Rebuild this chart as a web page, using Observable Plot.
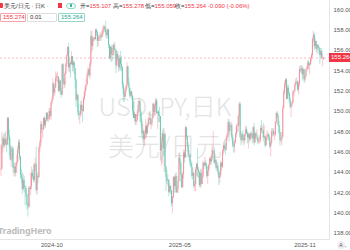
<!DOCTYPE html>
<html><head><meta charset="utf-8">
<script src="https://cdn.jsdelivr.net/npm/d3@7"></script>
<script src="https://cdn.jsdelivr.net/npm/@observablehq/plot@0.6"></script>
<style>
body{margin:0;background:#fff;font-family:"Liberation Sans",Arial,sans-serif;}
#wrap{position:relative;width:350px;height:250px;overflow:hidden;}
#wrap svg{position:absolute;left:0;top:0;}
.a{position:absolute;white-space:nowrap;}
.t{font-size:6px;line-height:8px;color:#333;}
.red{color:#f23645;}
.box{position:absolute;top:13px;height:7px;border:1px solid #ddd;border-radius:1px;font-size:6px;line-height:7px;padding-left:2px;color:#333;}
</style></head><body><div id="wrap"></div>
<script>
// ---- data (USD/JPY daily candles) ----
const startDate = "2024-08-06";
const opens = [144.2,144.3,146.7,147.3,146.6,147.2,146.8,146.7,149.3,147.6,146.6,145.2,145.3,146.3,144.4,144.5,143.9,144.6,145.0,
146.2,146.9,145.5,143.7,143.4,142.3,143.2,142.5,142.4,141.8,140.8,140.6,142.4,142.3,142.6,143.9,143.6,143.2,144.8,144.8,142.2,
143.6,143.5,146.4,146.9,148.7,148.2,148.2,149.3,148.6,149.1,149.8,149.2,149.2,150.0,149.5,150.8,151.1,152.7,151.8,152.3,153.3,153.4,153.4,
152.0,153.0,152.0,151.6,154.6,152.9,152.6,153.7,154.6,155.5,156.3,154.3,154.7,154.6,155.4,154.5,154.8,154.2,153.1,151.1,151.6,
149.8,149.6,149.6,150.6,150.1,150.0,151.2,151.9,152.4,152.6,153.6,154.1,153.5,154.7,157.4,156.4,157.1,157.2,157.1,158.0,157.8,156.9,
157.2,157.3,157.4,157.3,157.6,158.0,158.3,158.1,157.7,157.5,158.0,156.5,155.2,156.3,155.6,155.5,156.5,156.0,156.0,154.5,155.6,155.2,154.3,
155.2,154.6,154.3,152.6,151.7,151.4,152.0,152.5,154.4,152.8,152.3,151.5,151.9,151.5,150.0,149.3,149.7,149.0,149.1,149.8,
150.6,151.0,149.9,149.0,147.8,148.0,147.2,147.7,148.5,147.8,148.6,149.2,149.3,148.7,148.8,149.3,150.7,149.9,150.5,151.0,149.8,
149.9,149.6,149.5,146.1,146.9,147.8,146.3,147.7,144.5,143.5,143.1,143.2,142.0,142.6,142.2,140.9,141.5,143.5,142.6,143.6,142.0,142.3,
143.1,145.4,144.9,143.7,142.5,143.8,145.9,145.4,148.4,147.5,146.6,145.7,145.7,144.9,144.5,143.6,143.9,142.6,142.8,144.3,144.8,144.2,
144.0,142.7,143.9,142.8,143.5,144.9,144.6,144.9,144.6,143.6,144.1,144.7,145.3,145.0,145.5,146.1,146.1,144.9,145.2,144.4,144.6,
144.0,143.4,143.7,144.9,144.5,146.1,146.6,146.3,146.2,147.4,147.7,148.9,148.0,148.6,148.6,147.4,146.6,146.5,146.9,147.7,148.5,148.5,149.5,
150.7,147.4,147.1,147.7,147.4,147.1,147.7,148.2,147.8,147.4,147.7,147.2,147.8,147.7,147.3,148.4,146.9,147.8,147.4,147.4,147.0,
147.1,147.1,148.3,148.1,148.1,147.4,147.5,146.6,147.4,147.5,147.7,147.4,146.5,146.9,148.0,148.0,147.7,147.7,148.9,149.8,149.5,148.6,
147.9,147.1,147.2,147.4,150.3,151.9,152.7,153.1,151.2,152.3,151.8,151.1,150.4,150.6,150.8,151.9,152.0,152.6,152.9,152.9,152.1,152.7,154.1,
154.0,154.2,153.6,154.1,153.1,153.4,154.1,154.1,154.8,154.5,154.6,155.2,155.5,157.1,157.5,156.4,156.9,156.1,156.5,156.3,
156.2,155.5,155.9,155.3,155.107];
const closes = [144.3,146.7,147.3,146.6,147.2,146.8,146.7,149.3,147.6,146.6,145.2,145.3,146.3,144.4,144.5,143.9,144.6,145.0,146.2,
146.9,145.5,143.7,143.4,142.3,143.2,142.5,142.4,141.8,140.8,140.6,142.4,142.3,142.6,143.9,143.6,143.2,144.8,144.8,142.2,143.6,
143.5,146.4,146.9,148.7,148.2,148.2,149.3,148.6,149.1,149.8,149.2,149.2,150.0,149.5,150.8,151.1,152.7,151.8,152.3,153.3,153.4,153.4,152.0,
153.0,152.0,151.6,154.6,152.9,152.6,153.7,154.6,155.5,156.3,154.3,154.7,154.6,155.4,154.5,154.8,154.2,153.1,151.1,151.6,149.8,
149.6,149.6,150.6,150.1,150.0,151.2,151.9,152.4,152.6,153.6,154.1,153.5,154.7,157.4,156.4,157.1,157.2,157.1,158.0,157.8,156.9,157.2,
157.3,157.4,157.3,157.6,158.0,158.3,158.1,157.7,157.5,158.0,156.5,155.2,156.3,155.6,155.5,156.5,156.0,156.0,154.5,155.6,155.2,154.3,155.2,
154.6,154.3,152.6,151.7,151.4,152.0,152.5,154.4,152.8,152.3,151.5,151.9,151.5,150.0,149.3,149.7,149.0,149.1,149.8,150.6,
151.0,149.9,149.0,147.8,148.0,147.2,147.7,148.5,147.8,148.6,149.2,149.3,148.7,148.8,149.3,150.7,149.9,150.5,151.0,149.8,149.9,
149.6,149.5,146.1,146.9,147.8,146.3,147.7,144.5,143.5,143.1,143.2,142.0,142.6,142.2,140.9,141.5,143.5,142.6,143.6,142.0,142.3,143.1,
145.4,144.9,143.7,142.5,143.8,145.9,145.4,148.4,147.5,146.6,145.7,145.7,144.9,144.5,143.6,143.9,142.6,142.8,144.3,144.8,144.2,144.0,
142.7,143.9,142.8,143.5,144.9,144.6,144.9,144.6,143.6,144.1,144.7,145.3,145.0,145.5,146.1,146.1,144.9,145.2,144.4,144.6,144.0,
143.4,143.7,144.9,144.5,146.1,146.6,146.3,146.2,147.4,147.7,148.9,148.0,148.6,148.6,147.4,146.6,146.5,146.9,147.7,148.5,148.5,149.5,150.7,
147.4,147.1,147.7,147.4,147.1,147.7,148.2,147.8,147.4,147.7,147.2,147.8,147.7,147.3,148.4,146.9,147.8,147.4,147.4,147.0,147.1,
147.1,148.3,148.1,148.1,147.4,147.5,146.6,147.4,147.5,147.7,147.4,146.5,146.9,148.0,148.0,147.7,147.7,148.9,149.8,149.5,148.6,147.9,
147.1,147.2,147.4,150.3,151.9,152.7,153.1,151.2,152.3,151.8,151.1,150.4,150.6,150.8,151.9,152.0,152.6,152.9,152.9,152.1,152.7,154.1,154.0,
154.2,153.6,154.1,153.1,153.4,154.1,154.1,154.8,154.5,154.6,155.2,155.5,157.1,157.5,156.4,156.9,156.1,156.5,156.3,156.2,
155.5,155.9,155.3,155.354,155.264];
const highs = [146.6,147.9,147.5,147.8,147.8,148.0,147.4,149.4,149.4,148.2,147.3,146.6,146.5,146.5,144.9,144.9,144.9,145.7,146.6,
147.2,147.2,145.6,144.3,144.0,143.8,143.6,142.6,142.7,141.9,141.0,142.6,142.6,143.9,144.5,144.2,144.7,144.9,145.4,146.5,143.9,
144.0,146.5,147.2,149.0,149.0,148.3,149.4,149.5,149.3,149.9,149.9,149.6,150.3,150.3,150.9,151.4,153.2,152.8,152.5,153.9,153.7,153.9,153.3,
153.2,152.8,152.3,154.7,154.7,153.2,153.9,154.8,155.6,156.4,156.7,155.2,154.9,155.9,155.0,155.0,154.9,154.1,153.2,151.9,151.6,
150.7,150.0,151.0,151.0,150.6,151.4,152.0,152.6,153.2,153.8,154.3,154.2,154.9,157.9,157.9,157.3,157.3,157.3,158.1,158.1,157.9,157.5,
157.5,157.8,157.7,158.0,158.4,158.5,158.4,158.9,158.0,158.2,158.1,156.6,156.4,156.5,156.2,156.6,156.8,156.7,156.2,155.9,155.9,155.4,155.5,
155.9,155.4,154.4,152.9,152.2,152.3,152.6,154.8,154.4,153.3,152.0,152.0,152.0,151.6,150.9,149.9,149.7,149.6,150.1,151.0,
151.3,151.0,150.1,149.3,148.7,148.2,148.1,149.2,148.7,148.9,149.4,149.9,150.0,149.2,149.5,150.8,150.8,150.6,151.2,151.2,150.0,
150.1,150.4,149.3,147.4,148.1,148.3,148.3,147.9,144.6,144.2,143.8,143.3,142.9,142.7,142.2,141.6,143.6,143.4,143.8,144.0,142.6,143.6,
145.9,145.9,145.0,143.9,144.0,146.2,146.2,148.6,148.3,147.6,146.9,146.1,145.8,145.2,144.9,144.4,144.0,143.1,144.5,144.9,146.3,144.5,
144.0,144.3,144.2,144.4,145.1,145.0,145.5,145.2,144.8,144.5,144.8,145.4,145.5,145.7,146.2,148.0,146.4,145.8,145.2,145.0,144.9,
144.2,144.0,145.1,145.0,146.2,146.9,147.2,146.8,147.5,147.8,149.2,149.2,148.8,149.0,148.8,147.7,147.1,147.2,147.9,148.7,148.8,149.6,150.9,
150.9,148.0,147.9,148.1,147.6,147.8,148.5,148.5,148.0,147.9,147.8,147.9,148.0,147.8,148.5,148.8,147.8,148.0,148.2,147.7,147.4,
147.6,148.6,149.1,148.5,148.8,148.6,147.6,147.7,148.1,147.9,147.8,147.5,147.0,148.3,148.3,148.3,148.0,149.0,149.9,150.0,149.7,149.0,
148.2,147.9,147.9,150.5,152.1,153.0,153.3,153.2,152.6,152.6,151.9,151.4,150.9,151.0,152.0,152.1,152.7,153.2,153.3,153.0,152.9,154.4,154.5,
154.5,154.5,154.3,154.1,153.5,154.3,154.5,155.0,155.0,154.8,155.3,155.7,157.2,157.9,157.7,157.2,156.9,156.6,156.6,156.4,
156.2,156.0,156.2,155.6,155.278];
const lows = [143.6,144.3,145.9,146.3,146.4,146.6,145.9,146.6,147.2,145.6,145.2,144.5,145.0,143.9,143.6,143.5,143.6,143.9,144.9,
145.8,145.2,143.3,142.9,141.8,142.2,142.0,140.7,141.5,140.3,139.6,140.4,140.5,141.7,142.3,143.3,143.0,142.9,144.1,141.9,141.7,
142.9,143.4,146.0,146.5,147.8,147.3,148.1,148.4,148.3,149.0,148.9,148.9,149.1,149.3,149.1,150.6,151.1,151.5,151.5,152.5,152.9,152.8,151.9,
151.8,151.6,151.3,151.6,152.7,152.2,152.3,153.6,154.3,155.4,153.9,153.8,153.3,154.6,153.9,153.9,153.6,152.2,150.4,151.0,149.5,
149.1,148.7,149.4,149.8,148.9,149.9,151.0,151.5,152.0,152.6,153.5,153.3,153.2,154.4,155.8,156.0,156.8,156.9,157.0,157.4,156.3,156.4,
156.9,156.9,156.9,157.2,157.4,157.8,157.8,157.3,157.1,157.2,156.2,155.1,155.0,154.8,154.9,155.5,155.8,155.1,153.7,154.3,154.9,153.8,154.0,
154.0,153.9,152.2,150.9,150.9,151.3,151.7,152.2,152.6,151.8,151.3,151.3,151.1,149.6,149.3,148.9,148.6,148.6,148.9,149.7,
150.0,148.9,148.6,147.3,146.9,146.6,146.5,147.3,147.4,147.7,148.4,149.1,148.6,148.2,148.5,149.3,149.6,149.5,150.3,149.7,148.2,
148.9,148.9,145.2,144.6,144.8,145.6,144.0,144.0,142.1,142.8,142.6,141.6,141.9,141.8,140.6,139.9,141.4,141.9,142.3,141.9,141.9,141.9,
143.0,144.3,143.0,142.4,142.4,143.3,144.9,145.4,147.2,146.0,145.4,145.1,144.6,144.4,143.3,143.2,142.4,142.1,142.1,143.6,143.5,143.4,
142.5,142.4,142.5,142.8,143.4,144.3,144.6,144.3,143.4,142.8,143.6,144.3,144.7,144.7,145.1,145.8,144.8,144.6,144.2,144.1,143.7,
142.7,142.9,143.5,144.1,144.4,145.7,146.0,145.7,146.1,147.1,147.4,147.0,147.6,148.4,147.1,146.4,145.9,145.9,146.8,147.4,147.9,147.9,148.6,
147.3,146.6,146.8,147.1,146.6,146.8,147.5,147.7,146.8,146.3,146.9,147.1,147.4,146.8,147.2,146.6,146.8,147.2,147.2,146.7,146.8,
146.8,146.9,147.8,147.8,147.0,147.2,146.4,146.6,147.1,147.1,147.1,146.3,145.5,146.7,147.5,147.5,147.1,147.5,148.7,149.3,148.5,147.7,
146.6,146.9,146.6,149.0,150.2,151.6,152.3,151.1,151.7,151.5,150.8,150.2,149.4,150.4,150.8,151.5,151.8,152.4,152.6,151.9,151.6,152.4,153.8,
153.7,153.0,153.2,152.8,152.8,153.4,153.9,154.1,154.1,153.6,154.5,154.9,155.3,156.8,156.0,156.2,155.8,155.6,155.9,155.6,
154.6,155.2,155.1,154.4,155.059];
const yTicks = [138,140,142,144,146,148,150,152,154,156,158,160];
const tickDates = ["2024-10-22","2025-05-02","2025-11-07"];
const tickLabels = ["2024-10","2025-05","2025-11"];
const symbolTitle = "美元/日元 · 日K ·";
const watermark1 = "USDJPY,日K";
const watermark2 = "美元/日元";
const quoteBoxes = ["155.274","0.01","155.264"];

// ---- build rows ----
const fmt = d3.utcFormat("%Y-%m-%d");
const dates = [];
{ let d = new Date(startDate + "T00:00:00Z");
  while (dates.length < closes.length) {
    const wd = d.getUTCDay();
    if (wd !== 0 && wd !== 6) dates.push(fmt(d));
    d = new Date(d.getTime() + 86400000);
  } }
const UP = "#f28a96", DOWN = "#5cc6b0";
const rows = closes.map((c, i) => {
  const o = opens[i];
  return {i, date: dates[i], o, c, h: Math.max(highs[i], o, c), l: Math.min(lows[i], o, c), col: c >= o ? UP : DOWN};
});
const tickIdx = tickDates.map(t => dates.indexOf(t));
const last = rows[rows.length - 1];
const prevClose = rows[rows.length - 2].c;

const chart = Plot.plot({
  width: 350, height: 250,
  marginTop: 0, marginBottom: 11, marginLeft: 0, marginRight: 21,
  style: {fontFamily: "'Liberation Sans', Arial, sans-serif", background: "transparent", overflow: "visible"},
  x: {domain: [-0.5, 354.4], axis: null},
  y: {domain: [137.38, 160.93], axis: null},
  color: {type: "identity"},
  marks: [
    Plot.text([watermark1], {text: d => d, frameAnchor: "middle", dy: -12, fontSize: 25, fill: "#e4e4e4", fontFamily: "'Noto Sans CJK SC', sans-serif", fontWeight: 300}),
    Plot.text([watermark2], {text: d => d, frameAnchor: "middle", dy: 28, fontSize: 26, fill: "#e4e4e4", fontFamily: "'Noto Sans CJK SC', sans-serif", fontWeight: 300}),
    Plot.ruleY([last.c], {stroke: "#f7a9b1", strokeDasharray: "2,2", strokeWidth: 0.8}),
    Plot.ruleX(rows, {x: "i", y1: "l", y2: "h", stroke: "col", strokeWidth: 0.45}),
    Plot.ruleX(rows, {x: "i", y1: "o", y2: "c", stroke: "col", strokeWidth: 0.9}),
    Plot.frame({anchor: "right", stroke: "#e6e6e6"}),
    Plot.frame({anchor: "bottom", stroke: "#e6e6e6"}),
    Plot.axisY({anchor: "right", ticks: yTicks, tickFormat: d => d.toFixed(3), tickSize: 0, tickPadding: 4, fontSize: 6, color: "#555"}),
    Plot.axisX({ticks: tickIdx, tickFormat: d => tickLabels[tickIdx.indexOf(d)], tickSize: 0, tickPadding: 3, fontSize: 6, color: "#555"})
  ]
});
const wrap = document.getElementById("wrap");
wrap.appendChild(chart);

const yS = chart.scale("y");
const yPix = yS.apply(last.c);
const chg = last.c - prevClose;
const pct = chg / prevClose * 100;
const f3 = v => v.toFixed(3);
const html = `
<div class="a" style="left:0;top:3px;width:2.5px;height:5px;background:#f23645;border-radius:0 1px 1px 0"></div>
<div class="a t" style="left:4px;top:2px;font-size:6px;color:#333">${symbolTitle}</div>
<div class="a" style="left:58px;top:3px;width:4px;height:5px;background:#f23645"></div>
<div class="a" style="left:66px;top:2.5px;width:10px;height:6px;border:1px solid #8fd8c8;border-radius:4px;box-sizing:border-box;background:#f3fbf9"></div>
<div class="a" style="left:69.5px;top:4.2px;width:2.6px;height:2.6px;border-radius:50%;background:#22ab94"></div>
<div class="a t" style="left:80px;top:2px">开=<span class="red">${f3(last.o)}</span></div>
<div class="a t" style="left:113px;top:2px">高=<span class="red">${f3(last.h)}</span></div>
<div class="a t" style="left:145px;top:2px">低=<span class="red">${f3(last.l)}</span></div>
<div class="a t" style="left:175px;top:2px">收=<span class="red">${f3(last.c)} ${chg.toFixed(3)} (${pct.toFixed(2)}%)</span></div>
<div class="box" style="left:0;width:22px;border-color:#f5a3ab;color:#f23645">${quoteBoxes[0]}</div>
<div class="box" style="left:27px;width:26px;">${quoteBoxes[1]}</div>
<div class="box" style="left:58px;width:23px;border-color:#8fd8c8;color:#22ab94">${quoteBoxes[2]}</div>
<div class="a" style="left:329px;top:${yPix - 4.5}px;width:21px;height:9px;background:#f23645;color:#fff;font-size:6px;line-height:9px;padding-left:2px">${f3(last.c)}</div>
<div class="a" style="left:-2px;top:224px;font-family:'Noto Sans',sans-serif;font-weight:700;font-size:9px;color:#bdbdbd;letter-spacing:-0.2px">TradingHero</div>
<div class="a" style="left:337px;top:241px;width:8px;height:8px;border-radius:50%;background:#eee;color:#555;font-size:5px;line-height:8px;text-align:center">A</div>
`;
wrap.insertAdjacentHTML("beforeend", html);
</script></body></html>
